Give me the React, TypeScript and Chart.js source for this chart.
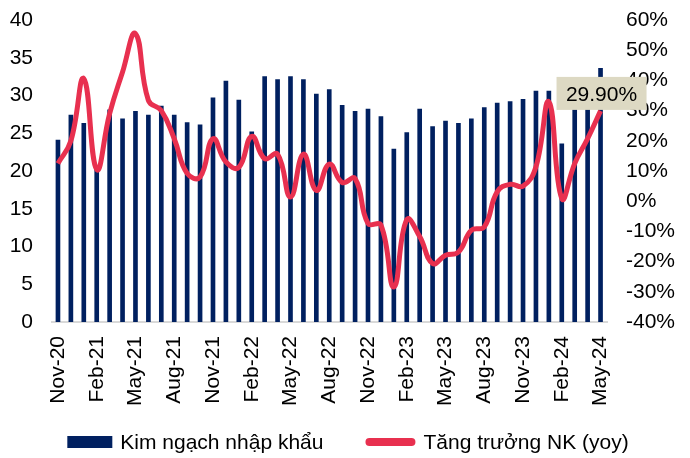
import React, { useEffect, useRef } from "react";
import { Chart, registerables } from "chart.js";

Chart.register(...registerables);

const months: string[] = [
  "Nov-20", "Dec-20",
  "Jan-21", "Feb-21", "Mar-21", "Apr-21", "May-21", "Jun-21", "Jul-21", "Aug-21", "Sep-21", "Oct-21", "Nov-21", "Dec-21",
  "Jan-22", "Feb-22", "Mar-22", "Apr-22", "May-22", "Jun-22", "Jul-22", "Aug-22", "Sep-22", "Oct-22", "Nov-22", "Dec-22",
  "Jan-23", "Feb-23", "Mar-23", "Apr-23", "May-23", "Jun-23", "Jul-23", "Aug-23", "Sep-23", "Oct-23", "Nov-23", "Dec-23",
  "Jan-24", "Feb-24", "Mar-24", "Apr-24", "May-24",
];

// Kim ngạch nhập khẩu (tỷ USD)
const importValue: number[] = [
  24.1, 27.4,
  26.3, 20.5, 28.1, 26.9, 27.9, 27.4, 28.6, 27.4, 26.4, 26.1, 29.7, 31.9,
  29.4, 25.2, 32.5, 32.1, 32.5, 32.1, 30.2, 30.8, 28.7, 27.9, 28.2, 27.2,
  22.9, 25.1, 28.2, 25.9, 26.6, 26.3, 26.9, 28.4, 29.0, 29.2, 29.5, 30.6,
  30.6, 23.6, 29.0, 30.0, 33.6,
];

// Tăng trưởng NK (yoy), %
const importGrowth: number[] = [
  12.5, 20.0,
  40.6, 10.5, 29.0, 42.8, 55.5, 33.4, 30.0, 20.7, 9.2, 8.0, 20.7, 13.0,
  11.2, 21.5, 14.1, 15.6, 1.4, 15.6, 3.6, 12.3, 6.2, 7.5, -7.4, -7.9,
  -28.4, -6.1, -11.7, -20.6, -17.9, -16.8, -9.6, -8.5, 3.1, 5.6, 5.0, 11.4,
  32.9, 0.9, 12.5, 20.7, 29.9,
];

const leftTicks = { min: 0, max: 40, step: 5 };
const rightTicks = { min: -40, max: 60, step: 10 };

const barLabel = "Kim ngạch nhập khẩu";
const lineLabel = "Tăng trưởng NK (yoy)";

const NAVY = "#002060";
const RED = "#E8304F";
const FONT = "'Liberation Sans', Arial, sans-serif";

export default function App() {
  const canvasRef = useRef<HTMLCanvasElement | null>(null);

  useEffect(() => {
    if (!canvasRef.current) return;

    const lastLabelPlugin = {
      id: "lastLabel",
      afterDatasetsDraw(chart: any) {
        const meta = chart.getDatasetMeta(1);
        const n = meta.data.length;
        const pt = meta.data[n - 1];
        if (!pt) return;
        const ctx = chart.ctx;
        const txt = importGrowth[n - 1].toFixed(2) + "%";
        ctx.save();
        ctx.fillStyle = "#DDD9C3";
        ctx.fillRect(pt.x - 44, pt.y - 34, 90, 33);
        ctx.fillStyle = "#000";
        ctx.font = `21px ${FONT}`;
        ctx.textAlign = "center";
        ctx.textBaseline = "middle";
        ctx.fillText(txt, pt.x + 1, pt.y - 16);
        ctx.restore();
      },
    };

    const legendPlugin = {
      id: "customLegend",
      afterDraw(chart: any) {
        const ctx = chart.ctx;
        ctx.save();
        ctx.font = `21px ${FONT}`;
        ctx.textBaseline = "middle";
        const w1 = ctx.measureText(barLabel).width;
        const w2 = ctx.measureText(lineLabel).width;
        const boxW = 45;
        const lineW = 50;
        const gapText = 8;
        const gapItem = 42;
        const total = boxW + gapText + w1 + gapItem + lineW + gapText + w2;
        let x = (chart.width - total) / 2 + 3;
        const y = 442;
        ctx.fillStyle = NAVY;
        ctx.fillRect(x, y - 6, boxW, 12);
        x += boxW + gapText;
        ctx.fillStyle = "#000";
        ctx.fillText(barLabel, x, y + 1);
        x += w1 + gapItem;
        ctx.strokeStyle = RED;
        ctx.lineWidth = 8;
        ctx.lineCap = "round";
        ctx.beginPath();
        ctx.moveTo(x + 4, y);
        ctx.lineTo(x + lineW - 4, y);
        ctx.stroke();
        x += lineW + gapText;
        ctx.fillStyle = "#000";
        ctx.fillText(lineLabel, x, y + 1);
        ctx.restore();
      },
    };

    const chart = new Chart(canvasRef.current, {
      type: "bar",
      data: {
        labels: months,
        datasets: [
          {
            type: "bar",
            label: barLabel,
            data: importValue,
            backgroundColor: NAVY,
            barThickness: 4,
            yAxisID: "y",
            order: 2,
          },
          {
            type: "line",
            label: lineLabel,
            data: importGrowth,
            borderColor: RED,
            backgroundColor: RED,
            borderWidth: 5,
            pointRadius: 0,
            tension: 0.45,
            yAxisID: "y1",
            order: 1,
          } as any,
        ],
      },
      options: {
        animation: false,
        responsive: true,
        maintainAspectRatio: false,
        layout: { padding: { top: 20, bottom: 50, left: 0, right: 0 } },
        plugins: {
          legend: { display: false },
          tooltip: { enabled: false },
        },
        scales: {
          x: {
            offset: true,
            grid: { display: false, drawTicks: false },
            border: { display: true, color: "#D9D9D9", width: 2 },
            ticks: {
              autoSkip: false,
              maxRotation: 90,
              minRotation: 90,
              padding: 14,
              color: "#000",
              font: { size: 21, family: FONT },
              callback: (_v: any, i: number) => (i % 3 === 0 ? months[i] : ""),
            },
            afterFit: (s: any) => {
              s.height = 86;
              s.paddingLeft = 0;
              s.paddingRight = 0;
            },
          },
          y: {
            position: "left",
            min: leftTicks.min,
            max: leftTicks.max,
            grid: { display: false, drawTicks: false },
            border: { display: false },
            ticks: {
              stepSize: leftTicks.step,
              padding: 18.5,
              color: "#000",
              font: { size: 21, family: FONT },
            },
            afterFit: (s: any) => {
              s.width = 51.5;
              s.paddingTop = 0;
              s.paddingBottom = 0;
            },
          },
          y1: {
            position: "right",
            min: rightTicks.min,
            max: rightTicks.max,
            grid: { display: false, drawTicks: false },
            border: { display: false },
            ticks: {
              stepSize: rightTicks.step,
              padding: 19,
              color: "#000",
              font: { size: 21, family: FONT },
              callback: (v: any) => `${v}%`,
            },
            afterFit: (s: any) => {
              s.width = 83;
              s.paddingTop = 0;
              s.paddingBottom = 0;
            },
          },
        },
      },
      plugins: [lastLabelPlugin, legendPlugin],
    });

    return () => chart.destroy();
  }, []);

  return (
    <div style={{ position: "fixed", left: 0, top: 0, width: 690, height: 458, background: "#fff" }}>
      <canvas ref={canvasRef} />
    </div>
  );
}
